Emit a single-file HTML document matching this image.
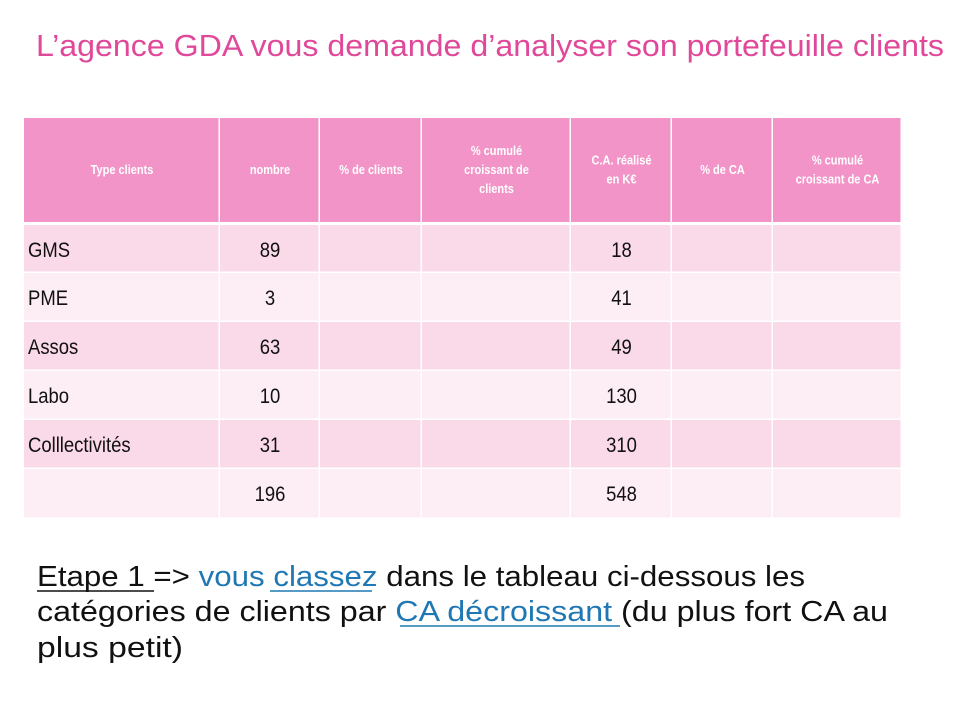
<!DOCTYPE html>
<html><head><meta charset="utf-8"><style>
html,body{margin:0;padding:0;background:#fff;width:960px;height:720px;overflow:hidden}
svg{display:block;font-family:"Liberation Sans",sans-serif}
</style></head><body>
<svg id="s" width="960" height="720" viewBox="0 0 960 720">
<rect width="960" height="720" fill="#fff"/>
<text x="36" y="56" font-size="31" fill="#e0489a" textLength="908" lengthAdjust="spacingAndGlyphs">L’agence GDA vous demande d’analyser son portefeuille clients</text>
<g id="tbl"></g>
<g font-size="29" fill="#111">
<text x="37" y="586" textLength="768" lengthAdjust="spacingAndGlyphs">Etape 1 =&gt; <tspan fill="#1f78b4">vous classez</tspan> dans le tableau ci-dessous les</text>
<text x="37" y="621" textLength="851" lengthAdjust="spacingAndGlyphs">catégories de clients par <tspan fill="#1f78b4">CA décroissant </tspan>(du plus fort CA au</text>
<text x="37" y="657" textLength="146" lengthAdjust="spacingAndGlyphs">plus petit)</text>
<line x1="37" y1="591" x2="154" y2="591" stroke="#111" stroke-width="1.5"/>
<line x1="270" y1="591" x2="372" y2="591" stroke="#1f78b4" stroke-width="1.5"/>
<line x1="400" y1="626" x2="620" y2="626" stroke="#1f78b4" stroke-width="1.5"/>
</g>
</svg>
<script>
const headers=["Type clients","nombre","% de clients","% cumulé|croissant de|clients","C.A. réalisé|en K€","% de CA","% cumulé|croissant de CA"];
const categories=["GMS","PME","Assos","Labo","Colllectivités",""];
const counts=[89,3,63,10,31,196];
const revenues=[18,41,49,130,310,548];
const NS="http://www.w3.org/2000/svg";
const g=document.getElementById('tbl');
const colX=[24,220,320,422,571,672,773,902];
const rowY=[225,273,322,371,420,469,519];
function mk(t,a){const e=document.createElementNS(NS,t);for(const k in a)e.setAttribute(k,a[k]);g.appendChild(e);return e;}
function condensed(x,y,size,anchor,txt,extra){
  const t=mk('text',Object.assign({x:0,y:0,'font-size':size,'text-anchor':anchor,transform:'translate('+x+','+y+') scale(0.88,1)'},extra||{}));
  t.textContent=txt;
  return t;
}
for(let c=0;c<7;c++){
  const r=mk('rect',{x:colX[c],y:118,width:colX[c+1]-colX[c]-1.5,height:104,fill:'#f294c7'});
  
  
  const lines=headers[c].split('|');
  const cx=(colX[c]+colX[c+1])/2;
  lines.forEach((ln,i)=>{
    const t=condensed(cx,174+(i-(lines.length-1)/2)*19,12.5,'middle',ln,{'font-weight':'bold',fill:'#fff'});
    
    
  });
}
for(let r=0;r<categories.length;r++){
  const y0=rowY[r],y1=rowY[r+1];
  for(let c=0;c<7;c++){
    const rc=mk('rect',{x:colX[c],y:y0,width:colX[c+1]-colX[c]-1.5,height:y1-y0-1.5,fill:r%2===0?'#fad9e8':'#fdedf4'});
    
    
  }
  const by=y0+32;
  const t1=condensed(28,by,21,'start',categories[r],{fill:'#111'});
  
  
  const t2=condensed((colX[1]+colX[2])/2,by,21,'middle',String(counts[r]),{fill:'#111'});
  
  
  const t3=condensed((colX[4]+colX[5])/2,by,21,'middle',String(revenues[r]),{fill:'#111'});
  
  
}
</script>
</body></html>
